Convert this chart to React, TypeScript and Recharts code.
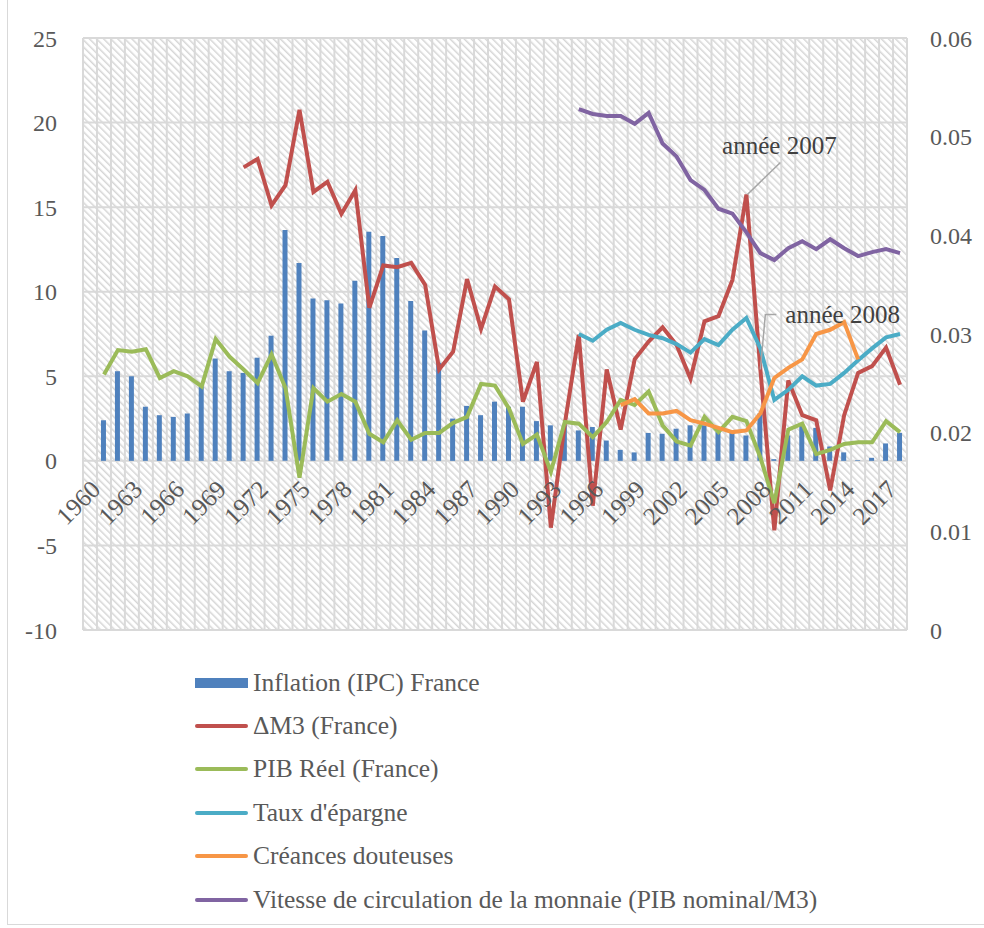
import React from 'react';
import {
  ComposedChart,
  Bar,
  Line,
  XAxis,
  YAxis,
  CartesianGrid,
  Legend,
  ReferenceDot,
} from 'recharts';

// années 1960 -> 2018
const years = [
  '1960', '1961', '1962', '1963', '1964', '1965', '1966', '1967', '1968', '1969',
  '1970', '1971', '1972', '1973', '1974', '1975', '1976', '1977', '1978', '1979',
  '1980', '1981', '1982', '1983', '1984', '1985', '1986', '1987', '1988', '1989',
  '1990', '1991', '1992', '1993', '1994', '1995', '1996', '1997', '1998', '1999',
  '2000', '2001', '2002', '2003', '2004', '2005', '2006', '2007', '2008', '2009',
  '2010', '2011', '2012', '2013', '2014', '2015', '2016', '2017', '2018',
];

const inflation = [
  null, 2.4, 5.3, 5.0, 3.2, 2.7, 2.6, 2.8, 4.4, 6.05,
  5.3, 5.2, 6.1, 7.4, 13.65, 11.7, 9.6, 9.5, 9.3, 10.65,
  13.55, 13.3, 12.0, 9.45, 7.7, 5.8, 2.5, 3.25, 2.7, 3.5,
  3.2, 3.2, 2.35, 2.1, 2.1, 1.8, 2.0, 1.2, 0.65, 0.5,
  1.65, 1.6, 1.9, 2.1, 2.1, 1.7, 1.7, 1.5, 2.8, 0.1,
  1.5, 2.1, 1.95, 0.85, 0.5, 0.04, 0.18, 1.03, 1.65,
];

const deltaM3 = [
  null, null, null, null, null, null, null, null, null, null,
  null, 17.35, 17.85, 15.1, 16.3, 20.75, 15.9, 16.5, 14.6, 16.0,
  9.05, 11.55, 11.45, 11.7, 10.4, 5.4, 6.45, 10.75, 7.8, 10.3,
  9.55, 3.5, 5.85, -3.95, 2.2, 7.45, -2.65, 5.4, 1.85, 6.0,
  7.05, 7.9, 6.85, 4.85, 8.25, 8.55, 10.7, 15.75, 5.4, -4.1,
  4.75, 2.7, 2.4, -1.75, 2.7, 5.2, 5.6, 6.7, 4.5,
];

const pibReel = [
  null, 5.1, 6.55, 6.45, 6.6, 4.9, 5.3, 5.0, 4.4, 7.2,
  6.15, 5.4, 4.6, 6.3, 4.3, -1.0, 4.3, 3.5, 3.95, 3.5,
  1.6, 1.1, 2.4, 1.25, 1.65, 1.65, 2.25, 2.6, 4.55, 4.45,
  3.1, 1.0, 1.55, -0.65, 2.3, 2.2, 1.4, 2.3, 3.6, 3.3,
  4.1, 2.1, 1.15, 0.9, 2.6, 1.7, 2.6, 2.35, 0.2, -2.5,
  1.85, 2.2, 0.4, 0.65, 1.0, 1.1, 1.1, 2.35, 1.7,
];

const epargne = [
  null, null, null, null, null, null, null, null, null, null,
  null, null, null, null, null, null, null, null, null, null,
  null, null, null, null, null, null, null, null, null, null,
  null, null, null, null, null, 7.5, 7.1, 7.75, 8.15, 7.75,
  7.45, 7.25, 6.9, 6.4, 7.2, 6.85, 7.75, 8.45, 6.65, 3.6,
  4.2, 5.0, 4.45, 4.55, 5.2, 5.95, 6.65, 7.3, 7.5,
];

const creances = [
  null, null, null, null, null, null, null, null, null, null,
  null, null, null, null, null, null, null, null, null, null,
  null, null, null, null, null, null, null, null, null, null,
  null, null, null, null, null, null, null, null, 3.3, 3.65,
  2.8, 2.8, 2.95, 2.4, 2.2, 1.95, 1.7, 1.8, 2.8, 4.9,
  5.5, 6.0, 7.5, 7.75, 8.2, 6.0, null, null, null,
];

const vitesse = [
  null, null, null, null, null, null, null, null, null, null,
  null, null, null, null, null, null, null, null, null, null,
  null, null, null, null, null, null, null, null, null, null,
  null, null, null, null, null, 0.0528, 0.0523, 0.0521, 0.0521, 0.0513,
  0.0524, 0.0493, 0.048, 0.0456, 0.0446, 0.0427, 0.0422, 0.0403, 0.0382, 0.0375,
  0.0387, 0.0394, 0.0386, 0.0396, 0.0387, 0.0379, 0.0383, 0.0386, 0.0382,
];

const leftTicks = [-10, -5, 0, 5, 10, 15, 20, 25];
const rightTicks = [0, 0.01, 0.02, 0.03, 0.04, 0.05, 0.06];

const seriesNames = [
  'Inflation (IPC) France',
  'ΔM3 (France)',
  'PIB Réel (France)',
  "Taux d'épargne",
  'Créances douteuses',
  'Vitesse de circulation de la monnaie (PIB nominal/M3)',
];

const data = years.map((year, i) => ({
  year,
  inflation: inflation[i],
  deltaM3: deltaM3[i],
  pibReel: pibReel[i],
  epargne: epargne[i],
  creances: creances[i],
  vitesse: vitesse[i],
}));

const FONT = '"Liberation Serif", "DejaVu Serif", serif';
const TEXT = '#595959';

const WIDTH = 984;
const HEIGHT = 928;
const MARGIN = { top: 38, right: 0, bottom: 268, left: 8 };
const X_AXIS_H = 30;
const PLOT_H = HEIGHT - MARGIN.top - MARGIN.bottom - X_AXIS_H;
// the category labels sit on the zero line, not at the bottom of the plot
const ZERO_SHIFT = (PLOT_H * (0 - leftTicks[0])) / (leftTicks[leftTicks.length - 1] - leftTicks[0]);

const YearTick = (props: any) => {
  const { x, y, payload } = props;
  const tx = x + 12;
  const ty = y - ZERO_SHIFT + 28;
  return (
    <text
      x={tx}
      y={ty}
      transform={`rotate(-45, ${tx}, ${ty})`}
      textAnchor="end"
      fill={TEXT}
      fontSize={25}
      fontFamily={FONT}
    >
      {payload.value}
    </text>
  );
};

const Note2007 = (props: any) => {
  const { cx, cy } = props;
  return (
    <g>
      <line x1={cx + 1} y1={cy} x2={cx + 34} y2={cy - 32} stroke="#a6a6a6" strokeWidth={1.5} />
      <text x={cx + 33} y={cy - 40} textAnchor="middle" fill="#404040" fontSize={25} fontFamily={FONT}>
        année 2007
      </text>
    </g>
  );
};

const Note2008 = (props: any) => {
  const { cx, cy } = props;
  return (
    <g>
      <polyline
        points={`${cx},${cy} ${cx + 5},${cy - 55} ${cx + 16},${cy - 55}`}
        fill="none"
        stroke="#a6a6a6"
        strokeWidth={1.5}
      />
      <text x={cx + 25} y={cy - 47} textAnchor="start" fill="#404040" fontSize={25} fontFamily={FONT}>
        année 2008
      </text>
    </g>
  );
};

const renderLegend = (props: any) => {
  const payload = [...(props.payload || [])].sort(
    (a: any, b: any) => seriesNames.indexOf(a.value) - seriesNames.indexOf(b.value)
  );
  return (
    <div style={{ fontFamily: FONT, fontSize: 25.5, color: TEXT }}>
      {payload.map((entry: any) => (
        <div key={entry.value} style={{ height: 43.4, display: 'flex', alignItems: 'center' }}>
          <svg width={58} height={20} style={{ flex: 'none' }}>
            {entry.type === 'rect' ? (
              <rect x={0} y={5} width={53} height={10} fill={entry.color} />
            ) : (
              <line x1={2} y1={10} x2={51} y2={10} stroke={entry.color} strokeWidth={4} strokeLinecap="round" />
            )}
          </svg>
          <span style={{ whiteSpace: 'nowrap' }}>{entry.value}</span>
        </div>
      ))}
    </div>
  );
};

export default function App() {
  return (
    <div style={{ position: 'relative', width: WIDTH, height: HEIGHT, background: '#fff' }}>
      <style>{'body { margin: 0; }'}</style>
      <div
        style={{
          position: 'absolute',
          left: 7,
          top: 0,
          width: WIDTH - 7,
          height: HEIGHT - 3,
          borderLeft: '1.5px solid #d9d9d9',
          borderBottom: '1.5px solid #d9d9d9',
          boxSizing: 'border-box',
        }}
      />
      <ComposedChart width={WIDTH} height={HEIGHT} data={data} margin={MARGIN} barCategoryGap={0}>
        <defs>
          <pattern id="hatch" width={5} height={5} patternUnits="userSpaceOnUse" patternTransform="rotate(-45)">
            <rect width={5} height={5} fill="#ffffff" />
            <line x1={0} y1={0} x2={0} y2={5} stroke="#d6d6d6" strokeWidth={3} />
          </pattern>
        </defs>
        <CartesianGrid
          yAxisId="left"
          fill="url(#hatch)"
          fillOpacity={1}
          stroke="#d9d9d9"
          strokeWidth={2}
          verticalCoordinatesGenerator={({ offset }: any) =>
            years.concat(['end']).map((_, i) => offset.left + (i * offset.width) / years.length)
          }
        />
        <XAxis
          dataKey="year"
          height={X_AXIS_H}
          interval={2}
          axisLine={false}
          tickLine={false}
          tickSize={0}
          tick={<YearTick />}
        />
        <YAxis
          yAxisId="left"
          width={75}
          domain={[leftTicks[0], leftTicks[leftTicks.length - 1]]}
          ticks={leftTicks}
          axisLine={false}
          tickLine={false}
          tickSize={0}
          tickMargin={26}
          tick={{ fill: TEXT, fontSize: 24, fontFamily: FONT }}
        />
        <YAxis
          yAxisId="right"
          orientation="right"
          width={77}
          domain={[rightTicks[0], rightTicks[rightTicks.length - 1]]}
          ticks={rightTicks}
          axisLine={false}
          tickLine={false}
          tickSize={0}
          tickMargin={23}
          tick={{ fill: TEXT, fontSize: 24, fontFamily: FONT }}
        />
        <Legend
          layout="vertical"
          align="center"
          verticalAlign="middle"
          wrapperStyle={{ left: 195, top: 661, width: 740 }}
          content={renderLegend}
        />
        <Bar yAxisId="left" dataKey="inflation" name={seriesNames[0]} fill="#4f81bd" barSize={5} isAnimationActive={false} />
        <Line yAxisId="left" dataKey="deltaM3" name={seriesNames[1]} stroke="#c0504d" strokeWidth={4} dot={false} isAnimationActive={false} />
        <Line yAxisId="left" dataKey="pibReel" name={seriesNames[2]} stroke="#9bbb59" strokeWidth={4} dot={false} isAnimationActive={false} />
        <Line yAxisId="left" dataKey="epargne" name={seriesNames[3]} stroke="#4bacc6" strokeWidth={4} dot={false} isAnimationActive={false} />
        <Line yAxisId="left" dataKey="creances" name={seriesNames[4]} stroke="#f79646" strokeWidth={4} dot={false} isAnimationActive={false} />
        <Line yAxisId="right" dataKey="vitesse" name={seriesNames[5]} stroke="#8064a2" strokeWidth={4} dot={false} isAnimationActive={false} />
        <ReferenceDot yAxisId="left" x="2007" y={deltaM3[47] as number} shape={<Note2007 />} />
        <ReferenceDot yAxisId="left" x="2008" y={deltaM3[48] as number} shape={<Note2008 />} />
      </ComposedChart>
    </div>
  );
}
